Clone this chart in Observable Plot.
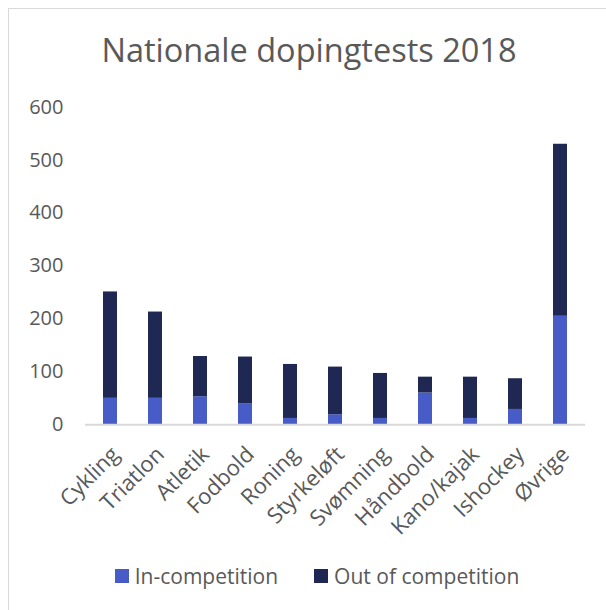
<!DOCTYPE html>
<html>
<head>
<meta charset="utf-8">
<script src="https://cdn.jsdelivr.net/npm/d3@7"></script>
<script src="https://cdn.jsdelivr.net/npm/@observablehq/plot@0.6"></script>
<style>
  html, body { margin: 0; padding: 0; background: #fff; }
  body { width: 606px; height: 610px; overflow: hidden; position: relative; font-family: "Open Sans", sans-serif; color: #595959; }
  #frame { position: absolute; left: 8px; top: 8px; width: 700px; height: 700px; border: 1.5px solid #d9d9d9; box-sizing: border-box; }
  #title { position: relative; height: 90px; text-align: center; font-size: 32.5px; line-height: 1; padding-top: 34px; box-sizing: border-box; padding-left: 12px; }
  #chart { position: relative; height: 455px; }
  #legend { position: relative; display: flex; justify-content: center; align-items: center; font-size: 21px; margin-top: 17px; padding-left: 28px; }
  .item { display: flex; align-items: center; }
  .sw { width: 14px; height: 14px; margin-right: 6px; }
</style>
</head>
<body>
<div id="frame"></div>
<div id="title">Nationale dopingtests 2018</div>
<div id="chart"></div>
<div id="legend"></div>
<script>
const categories = ["Cykling","Triatlon","Atletik","Fodbold","Roning","Styrkeløft","Svømning","Håndbold","Kano/kajak","Ishockey","Øvrige"];
const inCompetition = [50, 50, 53, 40, 12, 19, 12, 60, 12, 29, 205];
const outOfCompetition = [201, 163, 76, 88, 102, 90, 85, 30, 78, 58, 325];
const seriesNames = ["In-competition", "Out of competition"];
const seriesColors = ["#485cc7", "#1f2753"];
const yTicks = [0, 100, 200, 300, 400, 500, 600];

const data = [];
categories.forEach((c, i) => {
  data.push({category: c, series: seriesNames[0], value: inCompetition[i]});
  data.push({category: c, series: seriesNames[1], value: outOfCompetition[i]});
});

const chart = Plot.plot({
  width: 606,
  height: 455,
  marginTop: 16.7,
  marginBottom: 120.7,
  marginLeft: 85,
  marginRight: 21,
  style: { fontFamily: "Open Sans, sans-serif", color: "#595959", background: "transparent" },
  x: { domain: categories, paddingInner: 0.69, paddingOuter: 0.345, label: null },
  y: { domain: [0, 600], label: null },
  color: { domain: seriesNames, range: seriesColors },
  marks: [
    Plot.barY(data, { x: "category", y: "value", fill: "series", order: seriesNames }),
    Plot.ruleY([0], { stroke: "#d9d9d9", strokeWidth: 2 }),
    Plot.axisY({ ticks: yTicks, tickSize: 0, tickPadding: 22, fontSize: 20, label: null, fill: "#595959" }),
    Plot.axisX({ tickSize: 0, tickRotate: -45, tickPadding: 8, dx: 5, dy: 18, fontSize: 22, label: null, fill: "#595959" })
  ]
});
document.getElementById("chart").appendChild(chart);

const legend = document.getElementById("legend");
seriesNames.forEach((s, i) => {
  const item = document.createElement("div");
  item.className = "item";
  if (i > 0) item.style.marginLeft = "36px";
  const sw = document.createElement("div");
  sw.className = "sw";
  sw.style.background = seriesColors[i];
  const t = document.createElement("span");
  t.textContent = s;
  item.appendChild(sw);
  item.appendChild(t);
  legend.appendChild(item);
});
</script>
</body>
</html>
